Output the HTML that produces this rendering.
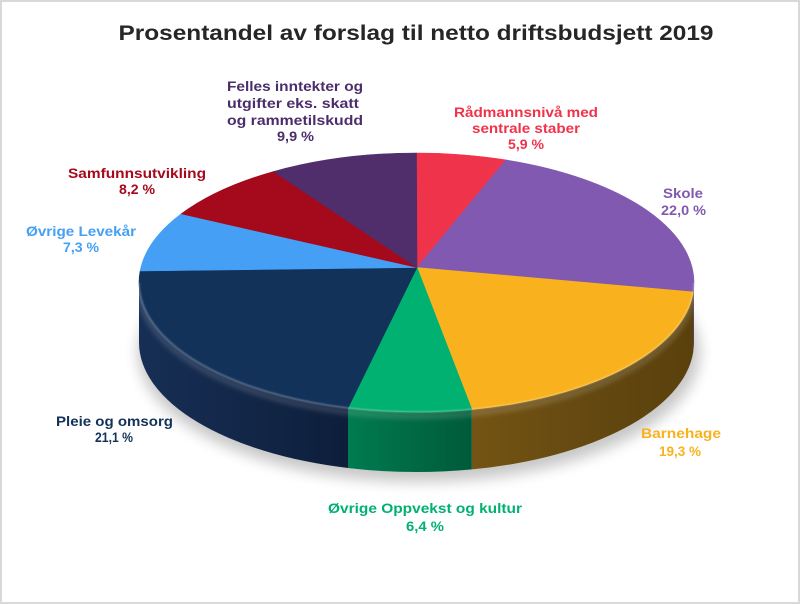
<!DOCTYPE html>
<html>
<head>
<meta charset="utf-8">
<style>
html,body{margin:0;padding:0;background:#fff;}
svg{display:block;}
text{font-family:"Liberation Sans",Arial,sans-serif;font-weight:bold;}
</style>
</head>
<body>
<svg width="800" height="604" viewBox="0 0 800 604" xmlns="http://www.w3.org/2000/svg">
<defs>
  <filter id="blurS" x="-20%" y="-40%" width="140%" height="180%"><feGaussianBlur stdDeviation="7"/></filter>
  <filter id="blur1" x="-5%" y="-20%" width="110%" height="140%"><feGaussianBlur stdDeviation="0.8"/></filter>
  <filter id="blur2" x="-5%" y="-20%" width="110%" height="140%"><feGaussianBlur stdDeviation="2"/></filter>
  <linearGradient id="gNavy" gradientUnits="userSpaceOnUse" x1="139" y1="0" x2="348" y2="0">
    <stop offset="0" stop-color="#172f55"/><stop offset="1" stop-color="#0d1e3b"/>
  </linearGradient>
  <linearGradient id="gGreen" gradientUnits="userSpaceOnUse" x1="348" y1="0" x2="472" y2="0">
    <stop offset="0" stop-color="#007b50"/><stop offset="1" stop-color="#005a39"/>
  </linearGradient>
  <linearGradient id="gYellow" gradientUnits="userSpaceOnUse" x1="472" y1="0" x2="694" y2="0">
    <stop offset="0" stop-color="#745414"/><stop offset="0.6" stop-color="#624710"/><stop offset="1" stop-color="#5a400b"/>
  </linearGradient>
</defs>

<rect x="0" y="0" width="800" height="604" fill="#ffffff"/>
<rect x="1" y="1" width="798" height="602" fill="none" stroke="#d9d9d9" stroke-width="2"/>

<text x="416" y="40" font-size="21" fill="#262626" text-anchor="middle" textLength="595" lengthAdjust="spacingAndGlyphs">Prosentandel av forslag til netto driftsbudsjett 2019</text>

<!-- shadow -->
<ellipse cx="419" cy="352" rx="281" ry="130" fill="#000" opacity="0.22" filter="url(#blurS)"/>

<!-- sides -->
<path d="M694,282.5 A277.5,129.5 0 0 1 693.25,291.98 L693.25,351.98 A277.5,129.5 0 0 0 694,342.5 Z" fill="#3d2760"/>
<path d="M693.25,291.98 A277.5,129.5 0 0 1 471.83,409.40 L471.83,469.40 A277.5,129.5 0 0 0 693.25,351.98 Z" fill="url(#gYellow)"/>
<path d="M471.83,409.40 A277.5,129.5 0 0 1 348,408 L348,468 A277.5,129.5 0 0 0 471.83,469.40 Z" fill="url(#gGreen)"/>
<path d="M348,408 A277.5,129.5 0 0 1 139,282.5 L139,342.5 A277.5,129.5 0 0 0 348,468 Z" fill="url(#gNavy)"/>

<!-- side bevel light -->
<path d="M139,286.5 A277.5,129.5 0 0 0 416.5,416 A277.5,129.5 0 0 0 694,286.5" fill="none" stroke="#ffffff" stroke-opacity="0.13" stroke-width="7" filter="url(#blur2)"/>

<!-- top slices -->
<g stroke-width="0.6" stroke-linejoin="round">
<path d="M417,267.5 L416.5,153 A277.5,129.5 0 0 1 505.93,159.91 Z" fill="#ef334a" stroke="#ef334a"/>
<path d="M417,267.5 L505.93,159.91 A277.5,129.5 0 0 1 693.25,291.98 Z" fill="#8159b0" stroke="#8159b0"/>
<path d="M417,267.5 L693.25,291.98 A277.5,129.5 0 0 1 471.83,409.40 Z" fill="#f9b21d" stroke="#f9b21d"/>
<path d="M417,267.5 L471.83,409.40 A277.5,129.5 0 0 1 348,408 Z" fill="#00b171" stroke="#00b171"/>
<path d="M417,267.5 L348,408 A277.5,129.5 0 0 1 140.10,270.99 Z" fill="#13325a" stroke="#13325a"/>
<path d="M417,267.5 L140.10,270.99 A277.5,129.5 0 0 1 181.17,213.88 Z" fill="#45a0f5" stroke="#45a0f5"/>
<path d="M417,267.5 L181.17,213.88 A277.5,129.5 0 0 1 273.58,171.50 Z" fill="#a5091c" stroke="#a5091c"/>
<path d="M417,267.5 L273.58,171.50 A277.5,129.5 0 0 1 416.5,153 Z" fill="#4f2e6b" stroke="#4f2e6b"/>
</g>

<!-- rim highlight -->
<path d="M139,282.5 A277.5,129.5 0 0 0 416.5,412 A277.5,129.5 0 0 0 694,282.5" fill="none" stroke="#ffffff" stroke-opacity="0.3" stroke-width="1.6" filter="url(#blur1)"/>

<!-- labels -->
<g font-size="14" text-anchor="middle">
  <g fill="#4b2d6b">
    <text x="295" y="91" textLength="136" lengthAdjust="spacingAndGlyphs">Felles inntekter og</text>
    <text x="293" y="108" textLength="132" lengthAdjust="spacingAndGlyphs">utgifter eks. skatt</text>
    <text x="295" y="125" textLength="136" lengthAdjust="spacingAndGlyphs">og rammetilskudd</text>
    <text x="295.5" y="141" textLength="37" lengthAdjust="spacingAndGlyphs">9,9 %</text>
  </g>
  <g fill="#ef334a">
    <text x="526" y="117" textLength="144" lengthAdjust="spacingAndGlyphs">Rådmannsnivå med</text>
    <text x="526" y="133" textLength="108" lengthAdjust="spacingAndGlyphs">sentrale staber</text>
    <text x="526" y="149" textLength="36" lengthAdjust="spacingAndGlyphs">5,9 %</text>
  </g>
  <g fill="#8159b0">
    <text x="683" y="198" textLength="40" lengthAdjust="spacingAndGlyphs">Skole</text>
    <text x="683.5" y="215" textLength="45" lengthAdjust="spacingAndGlyphs">22,0 %</text>
  </g>
  <g fill="#f9b21d">
    <text x="681" y="438" textLength="80" lengthAdjust="spacingAndGlyphs">Barnehage</text>
    <text x="680" y="456" textLength="42" lengthAdjust="spacingAndGlyphs">19,3 %</text>
  </g>
  <g fill="#00b171">
    <text x="425" y="513" textLength="194" lengthAdjust="spacingAndGlyphs">Øvrige Oppvekst og kultur</text>
    <text x="425" y="531" textLength="38" lengthAdjust="spacingAndGlyphs">6,4 %</text>
  </g>
  <g fill="#13325a">
    <text x="114.5" y="426" textLength="117" lengthAdjust="spacingAndGlyphs">Pleie og omsorg</text>
    <text x="114" y="442" textLength="38" lengthAdjust="spacingAndGlyphs">21,1 %</text>
  </g>
  <g fill="#a5091c">
    <text x="137" y="178" textLength="138" lengthAdjust="spacingAndGlyphs">Samfunnsutvikling</text>
    <text x="137" y="194" textLength="36" lengthAdjust="spacingAndGlyphs">8,2 %</text>
  </g>
  <g fill="#45a0f5">
    <text x="81" y="236" textLength="110" lengthAdjust="spacingAndGlyphs">Øvrige Levekår</text>
    <text x="81" y="252" textLength="36" lengthAdjust="spacingAndGlyphs">7,3 %</text>
  </g>
</g>
</svg>
</body>
</html>
